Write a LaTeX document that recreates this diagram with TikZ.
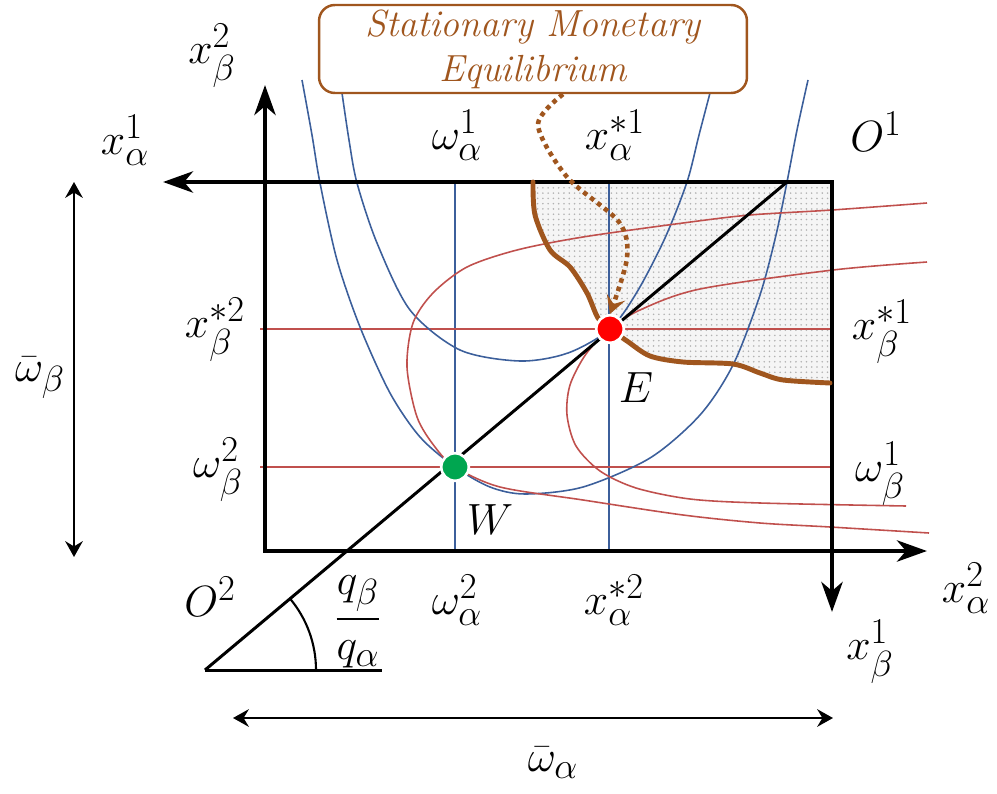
\documentclass[tikz,border=0pt]{standalone}
\definecolor{CurveBlue}{HTML}{3C5F9B}
\definecolor{CurveRed}{HTML}{C0504D}
\definecolor{EqBrown}{HTML}{A0561E}
\definecolor{DotGreen}{HTML}{00A650}
\usepackage{amsmath, amssymb}
\usepackage{tikz}
\usetikzlibrary{arrows.meta, positioning, calc, patterns}

\begin{document}
\begin{tikzpicture}[x=0.02cm, y=-0.02cm,
  lbl/.style={font=\fontsize{28}{33}\selectfont, inner sep=1pt},
  axisarrow/.style={line width=2.8pt, line cap=rect, -{Stealth[length=17pt, width=12pt, inset=5pt]}},
  span/.style={line width=1.4pt, {Stealth[length=9pt, width=10pt, inset=3pt]}-{Stealth[length=9pt, width=10pt, inset=3pt]}},
  bluecurve/.style={CurveBlue, line width=0.9pt},
  redcurve/.style={CurveRed, line width=0.9pt},
  eqdot/.style={circle, draw=white, line width=1.5pt, minimum size=0.55cm, inner sep=0pt},
  callout/.style={draw=EqBrown, text=EqBrown, line width=1.4pt, rounded corners=9pt,
    minimum width=8.56cm, minimum height=1.76cm, inner sep=0pt, align=center,
    font=\fontsize{21.5}{25.6}\selectfont\itshape, fill=white},
]
  \useasboundingbox (0,0) rectangle (997,794);

  % corners and points
  \coordinate (BL) at (265,551);
  \coordinate (TR) at (832,182);
  \coordinate (Wpt) at (455,467);
  \coordinate (Ept) at (610,329);
  \coordinate (vtx) at (205,670);
  \coordinate (diagend) at (787,182);

  % region better than E for both
  \path[fill=gray!8, postaction={pattern=dots, pattern color=gray!60}]
    plot[smooth] coordinates {(533,182) (535,215) (550,250) (570,267) (587,293) (598,318) (Ept)
      (627,341) (650,356) (683,362) (733,364) (760,373) (783,380) (830,383)}
    -- (832,383) -- (TR) -- cycle;

  % endowment and equilibrium guides
  \foreach \xx in {455,609}
    \draw[bluecurve] (\xx,182) -- (\xx,551);
  \foreach \yy in {329,467}
    \draw[redcurve] (260,\yy) -- (832,\yy);

  % indifference curves of alpha
  \draw[bluecurve] plot[smooth] coordinates {(302,80) (312,135) (320,183) (337,260) (360,327)
    (390,393) (420,437) (Wpt) (490,487) (525,494) (583,487) (650,458) (700,415) (733,365)
    (760,295) (776,235) (787,182) (797,130) (808,80)};
  \draw[bluecurve] plot[smooth] coordinates {(342,93) (349,140) (357,183) (377,243) (410,310)
    (460,350) (520,361) (568,353) (Ept) (637,292) (665,238) (687,182) (699,135) (710,93)};

  % indifference curves of beta
  \draw[redcurve] plot[smooth] coordinates {(927,203) (832,210) (750,215) (683,223) (583,237)
    (517,250) (467,267) (433,293) (413,323) (407,367) (417,417) (435,447) (Wpt)
    (500,487) (583,500) (683,515) (760,523) (830,527) (929,533)};
  \draw[redcurve] plot[smooth] coordinates {(927,262) (833,270) (700,289) (640,310) (Ept)
    (586,354) (570,385) (567,415) (576,446) (600,471) (636,488) (690,499) (760,503)
    (906,506)};

  % price line and angle
  \draw[line width=1.7pt] (vtx) -- (diagend);
  \draw[line width=1.7pt] (vtx) -- (382,670);
  \draw[line width=1.2pt] ($(vtx)+(111,0)$) arc[start angle=0, end angle=-40, radius=111];

  % Edgeworth box axes
  \draw[axisarrow] (TR) -- (163,182);
  \draw[axisarrow] (BL) -- (265,85);
  \draw[axisarrow] (BL) -- (927,551);
  \draw[axisarrow] (TR) -- (832,612);

  % contract boundary
  \draw[EqBrown, line width=2.8pt, line cap=round] plot[smooth] coordinates {(533,182) (535,215)
    (550,250) (570,267) (587,293) (598,318) (Ept)
    (627,341) (650,356) (683,362) (733,364) (760,373) (783,380) (830,383)};

  % total endowments
  \draw[span] (74,182) -- (74,557);
  \draw[span] (233,718) -- (833,718);

  % equilibrium points
  \node[eqdot, fill=red] (E) at (Ept) {};
  \node[eqdot, fill=DotGreen] (W) at (Wpt) {};

  % callout
  \node[callout] (callout) at (533,49) {Stationary Monetary\\Equilibrium};
  \draw[EqBrown, line width=2.6pt, dash pattern=on 2.6pt off 2.4pt,
    -{Stealth[length=10pt, width=11pt, inset=4pt]}]
    plot[smooth] coordinates {($(callout.south)+(30,0)$) (538,125) (567,177) (619,222) (627,258) (E.north)};

  % labels
  \node[lbl] (xb2) at (212,56) {$x_{\beta}^{2}$};
  \node[lbl] (xa1) at (125,140) {$x_{\alpha}^{1}$};
  \node[lbl] (O1) at (876,132) {$O^{1}$};
  \node[lbl] (wa1) at (457,135) {$\omega_{\alpha}^{1}$};
  \node[lbl] (xsa1) at (615,135) {$x_{\alpha}^{*1}$};
  \node[lbl] (xsb2) at (215,330) {$x_{\beta}^{*2}$};
  \node[lbl] (wb2) at (218,470) {$\omega_{\beta}^{2}$};
  \node[lbl] (wbbar) at (40,378) {$\bar{\omega}_{\beta}$};
  \node[lbl] (xsb1) at (882,332) {$x_{\beta}^{*1}$};
  \node[lbl] (wb1) at (880,474) {$\omega_{\beta}^{1}$};
  \node[lbl] (Elab) at (636,388) {$E$};
  \node[lbl] (Wlab) at (490,520) {$W$};
  \node[lbl] (O2) at (210,597) {$O^{2}$};
  \node[lbl] (wa2) at (457,600) {$\omega_{\alpha}^{2}$};
  \node[lbl] (xsa2) at (614,600) {$x_{\alpha}^{*2}$};
  \node[lbl] (price) at (358,622) {$\dfrac{q_{\beta}}{q_{\alpha}}$};
  \node[lbl] (xa2) at (966,588) {$x_{\alpha}^{2}$};
  \node[lbl] (xb1) at (870,652) {$x_{\beta}^{1}$};
  \node[lbl] (wabar) at (553,763) {$\bar{\omega}_{\alpha}$};
\end{tikzpicture}
\end{document}
